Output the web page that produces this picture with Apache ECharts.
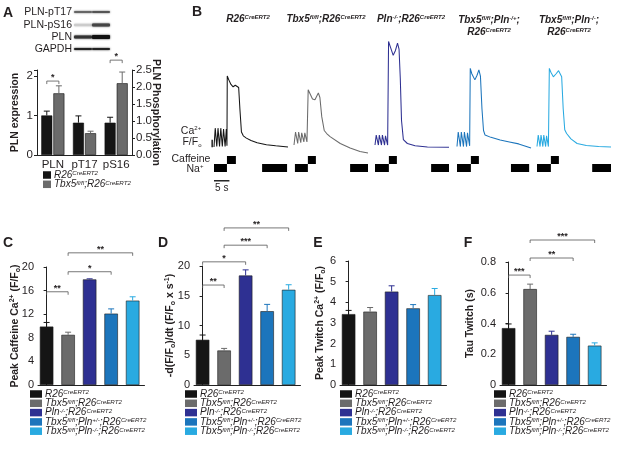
<!DOCTYPE html>
<html>
<head>
<meta charset="utf-8">
<script src="https://cdn.jsdelivr.net/npm/echarts@6/dist/echarts.min.js"></script>
<style>
  html, body { margin: 0; padding: 0; background: #fff; }
  #fig { width: 617px; height: 451px; }
</style>
</head>
<body>
<div id="fig"></div>
<script>
// ---- data ----
const genotypes = ['R26', 'Tbx5', 'Pln', 'Tbx5Het', 'Tbx5KO'];

// panel A
const blotCats = ['PLN', 'pT17', 'pS16'];
const plnExprMean = [1.0, 1.56];          // R26, Tbx5 (PLN / GAPDH)
const plnExprErr = [0.11, 0.19];
const phosR26Mean = [0.95, 0.95];         // pT17, pS16
const phosR26Err = [0.2, 0.16];
const phosTbx5Mean = [0.64, 2.11];
const phosTbx5Err = [0.06, 0.33];
const sigExprA = [[0, 0, 1.87, '*']];
const sigPhosA = [[2, 2, 2.79, '*']];

// panel B traces: [time s, F/F0]
const traceR26 = [[0,1.05],[0.4,3.5],[0.9,1.1],[1.3,3.5],[1.8,1.1],[2.2,3.5],[2.7,1.1],[3.1,3.4],[3.6,1.1],[4.0,3.4],[4.2,1.2],[4.3,10.3],[4.8,9.8],[5.5,9.2],[6.2,8.9],[6.9,9.1],[7.5,9.3],[8.0,8.8],[8.4,6.0],[8.9,3.0],[9.5,2.5],[10.5,2.2],[12,1.9],[14,1.6],[17,1.35],[20,1.2],[24,1.05]];
const traceTbx5 = [[0,1.3],[0.5,3.0],[1.2,1.5],[1.5,3.0],[2.2,1.6],[2.5,2.9],[3.2,1.7],[3.5,2.9],[4.2,1.7],[4.6,8.5],[5.2,8.0],[6.0,7.3],[6.8,7.2],[7.4,7.7],[7.9,8.1],[8.4,7.5],[9.0,5.0],[9.8,3.2],[10.6,2.8],[11.7,2.4],[15,1.5],[18.2,0.9],[21.4,0.45],[24,0.25]];
const tracePln = [[0,1.3],[0.4,2.6],[1.1,1.3],[1.4,2.6],[2.1,1.3],[2.4,2.6],[3.1,1.3],[3.4,2.5],[4.1,1.3],[4.4,14.8],[4.9,14.2],[5.9,13.0],[6.6,13.6],[7.3,14.6],[7.8,13.8],[8.2,10.0],[8.6,4.5],[9.2,2.0],[10.5,1.5],[13,1.2],[17,1.05],[24,1.0]];
const traceHet = [[0,1.1],[0.4,3.0],[1.1,1.1],[1.4,3.0],[2.1,1.1],[2.4,3.0],[3.1,1.1],[3.4,2.9],[4.1,1.2],[4.3,11.3],[4.8,10.6],[5.8,9.8],[6.5,10.4],[7.1,11.1],[7.6,10.3],[8.1,6.0],[8.6,3.2],[9.1,2.6],[11,2.3],[14,1.95],[17,1.7],[20,1.45],[24,0.9]];
const traceKO = [[0,1.1],[0.4,2.6],[1.0,1.1],[1.3,2.6],[1.9,1.1],[2.2,2.6],[2.8,1.1],[3.1,2.5],[3.7,1.1],[4.0,11.3],[4.5,10.8],[5.3,10.2],[6.2,10.6],[7.0,11.0],[7.5,11.1],[8.0,10.2],[8.5,6.0],[9.0,3.3],[9.6,2.8],[11,2.1],[13,1.5],[16,1.25],[20,1.1],[24,1.05]];
const traces = [traceR26, traceTbx5, tracePln, traceHet, traceKO];
// stimulus periods: [start s, end s, row] row 0 = Na+, row 1 = caffeine
const stimR26 = [[0,4.2,0],[4.2,7.1,1],[15.6,23.7,0]];
const stimTbx5 = [[0.3,4.5,0],[4.5,7.1,1],[18.2,24,0]];
const stimPln = [[0,4.5,0],[4.5,7.1,1],[18.2,24,0]];
const stimHet = [[0,4.5,0],[4.5,7.1,1],[17.5,23.4,0]];
const stimKO = [[0,4.5,0],[4.5,7.1,1],[17.9,24,0]];
const stims = [stimR26, stimTbx5, stimPln, stimHet, stimKO];
const timeBar = [[0, 5]];        // 5 s
const caBar = [[-0.6, 1, 2]];    // 1 F/F0

// panels C-F
const caffPeak = [9.9, 8.5, 17.9, 12.1, 14.3];
const caffPeakErr = [0.7, 0.45, 0.1, 0.8, 0.65];
const decayRate = [7.6, 5.8, 18.4, 12.4, 16.0];
const decayRateErr = [0.8, 0.35, 0.95, 1.15, 0.85];
const twitchPeak = [3.43, 3.55, 4.52, 3.71, 4.35];
const twitchPeakErr = [0.18, 0.2, 0.28, 0.18, 0.32];
const tauTwitch = [0.37, 0.624, 0.326, 0.313, 0.256];
const tauTwitchErr = [0.027, 0.032, 0.024, 0.017, 0.018];
const sigC = [[0,1,15.8,'**'],[1,3,19.2,'*'],[1,4,22.4,'**']];
const sigD = [[0,1,16.8,'**'],[0,2,20.7,'*'],[1,3,23.5,'***'],[1,4,26.4,'**']];
const sigF = [[0,1,0.715,'***'],[1,3,0.826,'**'],[1,4,0.943,'***']];

// ---- style ----
const FONT = '"Liberation Sans", Arial, Helvetica, sans-serif';
const INK = '#231f20';
const genoColors = ['#151515', '#6b6b6b', '#2e3092', '#1c75bc', '#29aae1'];
const genoLabels = {
  R26: 'R26{sup|CreERT2}',
  Tbx5: 'Tbx5{sup|fl/fl};R26{sup|CreERT2}',
  Pln: 'Pln{sup|-/-};R26{sup|CreERT2}',
  Tbx5Het: 'Tbx5{sup|fl/fl};Pln{sup|+/-};R26{sup|CreERT2}',
  Tbx5KO: 'Tbx5{sup|fl/fl};Pln{sup|-/-};R26{sup|CreERT2}'
};
const nameRich = {
  sup: { fontSize: 7, fontWeight: 'bold', verticalAlign: 'top', lineHeight: 7, fontFamily: FONT },
  sub: { fontSize: 7, fontWeight: 'bold', verticalAlign: 'bottom', lineHeight: 7, fontFamily: FONT }
};

const grids = [], xAxes = [], yAxes = [], series = [], legends = [], graphics = [];

function errorBars(src, shift, colorOf) {
  return function (params, api) {
    const m = api.value(1), e = api.value(2);
    const b = api.coord([api.value(0), m]);
    const t = api.coord([api.value(0), m + e]);
    const x = b[0] + shift;
    const c = colorOf(params.dataIndex);
    return { type: 'group', children: [
      { type: 'line', shape: { x1: x, y1: b[1], x2: x, y2: t[1] }, style: { stroke: c, lineWidth: 1 } },
      { type: 'line', shape: { x1: x - 3, y1: t[1], x2: x + 3, y2: t[1] }, style: { stroke: c, lineWidth: 1 } }
    ] };
  };
}

function brackets(src, shiftA, shiftB) {
  return function (params, api) {
    const a = api.coord([api.value(0), api.value(2)]);
    const b = api.coord([api.value(1), api.value(2)]);
    const x1 = a[0] + shiftA, x2 = b[0] + shiftB, y = a[1];
    return { type: 'group', children: [
      { type: 'polyline', shape: { points: [[x1, y + 3], [x1, y], [x2, y], [x2, y + 3]] },
        style: { stroke: '#555', lineWidth: 0.8, fill: null } },
      { type: 'text', style: { text: src[params.dataIndex][3], x: (x1 + x2) / 2, y: y + 1,
        textAlign: 'center', textVerticalAlign: 'bottom', font: 'bold 9px ' + FONT, fill: INK } }
    ] };
  };
}

function legendAt(names, left, top, w) {
  return {
    data: names, left: left, top: top, orient: 'vertical', icon: 'rect',
    itemWidth: w, itemHeight: 7.5, itemGap: -0.7, selectedMode: false, padding: 0,
    itemStyle: { borderWidth: 0 },
    formatter: n => genoLabels[n],
    textStyle: { fontFamily: FONT, fontSize: 10, fontStyle: 'italic', color: INK, lineHeight: 8.5, padding: [0, 0, 0, -2],
      rich: { sup: { fontSize: 6.2, fontStyle: 'italic', verticalAlign: 'top', lineHeight: 5, fontFamily: FONT, color: INK } } }
  };
}

function axisName(text, gap, rotate) {
  const o = { name: text, nameLocation: 'middle', nameGap: gap, nameMoveOverlap: false,
    nameTextStyle: { fontSize: 10.5, fontWeight: 'bold', color: INK, fontFamily: FONT, lineHeight: 13, rich: nameRich } };
  if (rotate !== undefined) o.nameRotate = rotate;
  return o;
}

// ---- panel A ----
grids.push({ left: 37, top: 70, width: 95, height: 85 });
xAxes.push({ type: 'category', gridIndex: 0, data: blotCats,
  axisLine: { lineStyle: { color: '#222', width: 1 } }, axisTick: { show: false },
  axisLabel: { interval: 0, fontSize: 11.5, color: INK, margin: 4, fontFamily: FONT } });
xAxes.push({ type: 'category', gridIndex: 0, data: blotCats, show: false });
yAxes.push(Object.assign({ type: 'value', gridIndex: 0, min: 0, max: 2.15, interval: 1, position: 'left',
  axisLine: { show: true, lineStyle: { color: '#222' } }, axisTick: { show: true, length: 3, lineStyle: { color: '#222' } },
  splitLine: { show: false },
  axisLabel: { fontSize: 11.5, color: INK, margin: 4, fontFamily: FONT, formatter: v => Number.isInteger(v) ? String(v) : '' }
}, axisName('PLN expression', 15.5)));
yAxes.push(Object.assign({ type: 'value', gridIndex: 0, min: 0, max: 2.5, interval: 0.5, position: 'right',
  axisLine: { show: true, lineStyle: { color: '#222' } }, axisTick: { show: true, length: 3, lineStyle: { color: '#222' } },
  splitLine: { show: false },
  axisLabel: { fontSize: 11.5, color: INK, margin: 4, fontFamily: FONT, formatter: v => v.toFixed(1) }
}, axisName('PLN Phosphorylation', 17, -90)));

const barA = { type: 'bar', barWidth: 11, barGap: '10%', itemStyle: { borderColor: '#111', borderWidth: 0.6 } };
const half = 6.05;
series.push(Object.assign({}, barA, { name: 'R26', xAxisIndex: 0, yAxisIndex: 0,
  data: [plnExprMean[0], '-', '-'], itemStyle: Object.assign({}, barA.itemStyle, { color: genoColors[0] }) }));
series.push(Object.assign({}, barA, { name: 'Tbx5', xAxisIndex: 0, yAxisIndex: 0,
  data: [plnExprMean[1], '-', '-'], itemStyle: Object.assign({}, barA.itemStyle, { color: genoColors[1] }) }));
series.push(Object.assign({}, barA, { name: 'R26', xAxisIndex: 1, yAxisIndex: 1,
  data: ['-', phosR26Mean[0], phosR26Mean[1]], itemStyle: Object.assign({}, barA.itemStyle, { color: genoColors[0] }) }));
series.push(Object.assign({}, barA, { name: 'Tbx5', xAxisIndex: 1, yAxisIndex: 1,
  data: ['-', phosTbx5Mean[0], phosTbx5Mean[1]], itemStyle: Object.assign({}, barA.itemStyle, { color: genoColors[1] }) }));
const errA = [
  { x: 0, y: 0, data: [[0, plnExprMean[0], plnExprErr[0]]], s: -half, c: genoColors[0] },
  { x: 0, y: 0, data: [[0, plnExprMean[1], plnExprErr[1]]], s: half, c: genoColors[1] },
  { x: 1, y: 1, data: [[1, phosR26Mean[0], phosR26Err[0]], [2, phosR26Mean[1], phosR26Err[1]]], s: -half, c: genoColors[0] },
  { x: 1, y: 1, data: [[1, phosTbx5Mean[0], phosTbx5Err[0]], [2, phosTbx5Mean[1], phosTbx5Err[1]]], s: half, c: genoColors[1] }
];
errA.forEach(e => series.push({ type: 'custom', xAxisIndex: e.x, yAxisIndex: e.y, data: e.data, z: 3,
  renderItem: errorBars(e.data, e.s, () => e.c) }));
series.push({ type: 'custom', xAxisIndex: 0, yAxisIndex: 0, data: sigExprA.map(r => r.slice(0, 3)),
  renderItem: brackets(sigExprA, -half, half) });
series.push({ type: 'custom', xAxisIndex: 1, yAxisIndex: 1, data: sigPhosA.map(r => r.slice(0, 3)),
  renderItem: brackets(sigPhosA, -half, half) });
legends.push(legendAt(['R26', 'Tbx5'], 43, 170, 8));

// western blot strips
const blotRows = [
  { label: 'PLN-pT17', y: 12, lanes: [['#666', 2.2], ['#555', 2.2]] },
  { label: 'PLN-pS16', y: 25, lanes: [['#ccc', 2.5], ['#444', 3.2]] },
  { label: 'PLN', y: 37, lanes: [['#333', 3.2], ['#111', 3.8]] },
  { label: 'GAPDH', y: 49, lanes: [['#222', 2.2], ['#222', 2.2]] }
];
blotRows.forEach(r => {
  graphics.push({ type: 'text', x: 72, y: r.y, style: { text: r.label, textAlign: 'right', textVerticalAlign: 'middle',
    font: '10.5px ' + FONT, fill: INK } });
  r.lanes.forEach((ln, i) => {
    graphics.push({ type: 'rect', shape: { x: 74 + i * 18, y: r.y - ln[1] / 2, width: 18, height: ln[1], r: 1 },
      style: { fill: ln[0], shadowBlur: 2, shadowColor: ln[0] } });
  });
});

// ---- panel B ----
const traceLeft = [214, 294, 375, 457, 537];
traces.forEach((tr, i) => {
  const g = grids.length;
  grids.push({ left: traceLeft[i], top: 40, width: 74, height: 115 });
  xAxes.push({ type: 'value', gridIndex: g, min: 0, max: 24, show: false });
  yAxes.push({ type: 'value', gridIndex: g, min: 0, max: 15, show: false, splitLine: { show: false } });
  const ax = xAxes.length - 1;
  series.push({ type: 'line', xAxisIndex: ax, yAxisIndex: ax, data: tr, showSymbol: false, smooth: false,
    lineStyle: { color: genoColors[i], width: 1.05 }, clip: false });
  if (i === 0) {
    series.push({ type: 'custom', xAxisIndex: ax, yAxisIndex: ax, data: caBar,
      renderItem: (p, api) => {
        const a = api.coord([api.value(0), api.value(1)]), b = api.coord([api.value(0), api.value(2)]);
        return { type: 'line', shape: { x1: a[0], y1: a[1], x2: b[0], y2: b[1] }, style: { stroke: '#000', lineWidth: 1.3 } };
      } });
  }
});
stims.forEach((st, i) => {
  const g = grids.length;
  grids.push({ left: traceLeft[i], top: 156, width: 74, height: 16 });
  xAxes.push({ type: 'value', gridIndex: g, min: 0, max: 24, show: false });
  yAxes.push({ type: 'value', gridIndex: g, min: 0, max: 2, show: false, splitLine: { show: false } });
  const ax = xAxes.length - 1;
  series.push({ type: 'custom', xAxisIndex: ax, yAxisIndex: ax, data: st,
    renderItem: (p, api) => {
      const a = api.coord([api.value(0), api.value(2) + 1]), b = api.coord([api.value(1), api.value(2)]);
      return { type: 'rect', shape: { x: a[0], y: a[1], width: b[0] - a[0], height: b[1] - a[1] }, style: { fill: '#000' } };
    } });
  if (i === 0) {
    series.push({ type: 'custom', xAxisIndex: ax, yAxisIndex: ax, data: timeBar,
      renderItem: (p, api) => {
        const a = api.coord([api.value(0), -1.1]), b = api.coord([api.value(1), -1.1]);
        return { type: 'group', children: [
          { type: 'line', shape: { x1: a[0], y1: a[1], x2: b[0], y2: b[1] }, style: { stroke: '#000', lineWidth: 1.3 } },
          { type: 'text', style: { text: '5 s', x: (a[0] + b[0]) / 2, y: a[1] + 2, textAlign: 'center', textVerticalAlign: 'top',
            font: '10px ' + FONT, fill: INK } }
        ] };
      } });
  }
});

const titleRich = {
  b: { font: 'italic bold 10px ' + FONT, fill: INK },
  s: { font: 'italic bold 6px ' + FONT, fill: INK, verticalAlign: 'top', lineHeight: 6 }
};
const bTitles = [
  ['{b|R26}{s|CreERT2}', 248, 19],
  ['{b|Tbx5}{s|fl/fl}{b|;R26}{s|CreERT2}', 326, 19],
  ['{b|Pln}{s|-/-}{b|;R26}{s|CreERT2}', 411, 19],
  ['{b|Tbx5}{s|fl/fl}{b|;Pln}{s|-/+}{b|;}', 489, 20],
  ['{b|R26}{s|CreERT2}', 489, 32],
  ['{b|Tbx5}{s|fl/fl}{b|;Pln}{s|-/-}{b|;}', 569, 20],
  ['{b|R26}{s|CreERT2}', 569, 32]
];
bTitles.forEach(t => graphics.push({ type: 'text', x: t[1], y: t[2],
  style: { text: t[0], rich: titleRich, textAlign: 'center', textVerticalAlign: 'middle', font: 'italic bold 10px ' + FONT } }));
const sideRich = {
  n: { font: '10.5px ' + FONT, fill: INK, lineHeight: 12 },
  s: { font: '6px ' + FONT, fill: INK, verticalAlign: 'top', lineHeight: 6 },
  d: { font: '6px ' + FONT, fill: INK, verticalAlign: 'bottom', lineHeight: 6 }
};
[['{n|Ca}{s|2+}', 191, 131], ['{n|F/F}{d|o}', 192, 142], ['{n|Caffeine}', 191, 159], ['{n|Na}{s|+}', 195, 169]].forEach(t =>
  graphics.push({ type: 'text', x: t[1], y: t[2], style: { text: t[0], rich: sideRich, textAlign: 'center', textVerticalAlign: 'middle', font: '10.5px ' + FONT } }));

// ---- panels C-F ----
const panels = [
  { left: 38, top: 267, h: 118, max: 20, step: 4, mean: caffPeak, err: caffPeakErr, sig: sigC, gap: 16,
    name: 'Peak Caffeine Ca{sup|2+} (F/F{sub|o})', leg: 30 },
  { left: 194, top: 266, h: 119, max: 20, step: 5, mean: decayRate, err: decayRateErr, sig: sigD, gap: 17.5,
    name: '-d(F/F{sub|o})/dt (F/F{sub|o} x s{sup|-1})', leg: 185 },
  { left: 340, top: 261, h: 124, max: 6, step: 1, mean: twitchPeak, err: twitchPeakErr, sig: [], gap: 13.5,
    name: 'Peak Twitch Ca{sup|2+} (F/F{sub|o})', leg: 340 },
  { left: 500, top: 262, h: 123, max: 0.8, step: 0.2, mean: tauTwitch, err: tauTwitchErr, sig: sigF, gap: 23.5,
    name: 'Tau Twitch (s)', leg: 494 }
];
panels.forEach((pn, k) => {
  const g = grids.length;
  grids.push({ left: pn.left, top: pn.top, width: 106.5, height: pn.h });
  xAxes.push({ type: 'value', gridIndex: g, min: -0.4, max: 4.55,
    axisLine: { show: true, onZero: false, lineStyle: { color: '#222' } }, axisTick: { show: false },
    axisLabel: { show: false }, splitLine: { show: false } });
  yAxes.push(Object.assign({ type: 'value', gridIndex: g, min: 0, max: pn.max, interval: pn.step,
    axisLine: { show: true, lineStyle: { color: '#222' } }, axisTick: { show: true, length: 3, lineStyle: { color: '#222' } },
    splitLine: { show: false },
    axisLabel: { fontSize: 11, color: INK, margin: 4, fontFamily: FONT,
      formatter: v => (pn.step < 1 && v !== 0) ? v.toFixed(1) : String(v) }
  }, axisName(pn.name, pn.gap)));
  const ax = xAxes.length - 1;
  genotypes.forEach((gn, i) => {
    series.push({ type: 'bar', name: gn, xAxisIndex: ax, yAxisIndex: ax, stack: 'panel' + k, barWidth: 13.5,
      data: [[i, pn.mean[i]]], itemStyle: { color: genoColors[i], borderColor: '#1d1d1d', borderWidth: 0.6 } });
  });
  const ed = pn.mean.map((m, i) => [i, m, pn.err[i]]);
  series.push({ type: 'custom', xAxisIndex: ax, yAxisIndex: ax, data: ed, z: 3,
    renderItem: errorBars(ed, 0, i => genoColors[i]) });
  if (pn.sig.length) {
    series.push({ type: 'custom', xAxisIndex: ax, yAxisIndex: ax, data: pn.sig.map(r => r.slice(0, 3)),
      renderItem: brackets(pn.sig, 0, 0) });
  }
  legends.push(legendAt(genotypes, pn.leg, 389, 12));
});

// panel letters
[['A', 8, 13], ['B', 197, 12], ['C', 8, 243], ['D', 163, 243], ['E', 318, 243], ['F', 468, 243]].forEach(t =>
  graphics.push({ type: 'text', x: t[1], y: t[2], style: { text: t[0], textAlign: 'center', textVerticalAlign: 'middle',
    font: 'bold 14px ' + FONT, fill: INK } }));

const chart = echarts.init(document.getElementById('fig'), null, { renderer: 'canvas' });
chart.setOption({
  animation: false,
  backgroundColor: '#ffffff',
  textStyle: { fontFamily: FONT },
  grid: grids,
  xAxis: xAxes,
  yAxis: yAxes,
  legend: legends,
  graphic: graphics,
  series: series
});
</script>
</body>
</html>
